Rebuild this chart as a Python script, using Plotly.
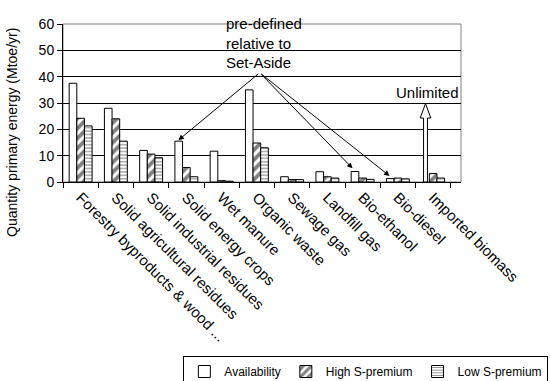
import plotly.graph_objects as go

categories = ["Forestry byproducts & wood ...", "Solid agricultural residues",
              "Solid industrial residues", "Solid energy crops", "Wet manure",
              "Organic waste", "Sewage gas", "Landfill gas", "Bio-ethanol",
              "Bio-diesel", "Imported biomass"]
availability = [37.5, 28.0, 12.0, 15.5, 11.7, 35.0, 2.0, 3.9, 4.0, 1.3, None]
high_premium = [24.2, 24.0, 10.6, 5.5, 0.5, 14.8, 0.9, 2.0, 1.5, 1.5, 3.2]
low_premium = [21.3, 15.5, 9.2, 2.0, 0.3, 13.0, 0.9, 1.5, 1.0, 1.2, 1.5]
y_ticks = [0, 10, 20, 30, 40, 50, 60]

FONT = "Arial, Liberation Sans, sans-serif"
BARGAP = 0.35
slot = (1 - BARGAP) / 3  # width of one bar in category units

fig = go.Figure()
fig.add_trace(go.Bar(name="Availability", x=categories, y=availability,
                     marker=dict(color="white", line=dict(color="black", width=1))))
fig.add_trace(go.Bar(name="High S-premium", x=categories, y=high_premium,
                     marker=dict(color="white", line=dict(color="black", width=1),
                                 pattern=dict(shape="/", fgcolor="black", bgcolor="white",
                                              size=7, solidity=0.55))))
fig.add_trace(go.Bar(name="Low S-premium", x=categories, y=low_premium,
                     marker=dict(color="white", line=dict(color="black", width=1),
                                 pattern=dict(shape="-", fgcolor="black", bgcolor="white",
                                              size=3.4, solidity=0.3))))

# plot-area border (grey top/right)
fig.add_shape(type="rect", xref="paper", yref="paper", x0=0, x1=1, y0=0, y1=1,
              line=dict(color="#808080", width=1), layer="below")

# hollow "Unlimited" arrow in the availability slot of the last category
ix = len(categories) - 1 - slot
shaft, head = 0.055, 0.15
y_base, y_tip = 24.3, 29.8
path = (f"M{ix-shaft},0 L{ix-shaft},{y_base} L{ix-head},{y_base} L{ix},{y_tip} "
        f"L{ix+head},{y_base} L{ix+shaft},{y_base} L{ix+shaft},0 Z")
fig.add_shape(type="path", xref="x", yref="y", path=path,
              fillcolor="white", line=dict(color="black", width=1))
fig.add_annotation(x=ix, y=34.0, xref="x", yref="y", text="Unlimited", xshift=2,
                   showarrow=False, font=dict(family=FONT, size=15, color="black"))

# arrows from the "pre-defined" note
apex_x, apex_y = 5.08, 41.5
targets = [(3, 15.9, -0.01), (8, 5.2, -0.07), (9, 2.3, -0.02)]
for ci, ty, dx in targets:
    fig.add_annotation(x=ci - slot + dx, y=ty, xref="x", yref="y",
                       ax=apex_x, ay=apex_y, axref="x", ayref="y",
                       text="", showarrow=True, arrowhead=2, arrowsize=1.1,
                       arrowwidth=1, arrowcolor="black")
fig.add_annotation(x=0.405, y=1.07, xref="paper", yref="paper",
                   text="pre-defined<br>relative to<br>Set-Aside", align="left",
                   xanchor="left", yanchor="top", showarrow=False,
                   font=dict(family=FONT, size=15, color="black"))

# y-axis title
fig.add_annotation(x=-0.128, y=0.311, xref="paper", yref="paper",
                   text="Quantity primary energy (Mtoe/yr)", textangle=-90,
                   showarrow=False, xanchor="center", yanchor="middle",
                   font=dict(family=FONT, size=14, color="black"))

W, H = 550, 381
fig.update_layout(
    width=W, height=H,
    margin=dict(l=63, r=89, t=24, b=199, autoexpand=False),
    paper_bgcolor="white", plot_bgcolor="white",
    barmode="group", bargap=BARGAP, bargroupgap=0,
    font=dict(family=FONT, size=13, color="black"),
    showlegend=True,
    legend=dict(orientation="h", xref="container", yref="container",
                x=0.997, xanchor="right", y=1 - 356 / H, yanchor="top",
                bordercolor="black", borderwidth=1, bgcolor="white",
                font=dict(family=FONT, size=12, color="black"),
                itemwidth=30, tracegroupgap=0),
    xaxis=dict(type="category", tickangle=45, ticks="outside", tickson="boundaries",
               ticklen=5, tickcolor="black", showline=True, linecolor="black",
               linewidth=1, showgrid=False, automargin=False,
               tickfont=dict(family=FONT, size=15, color="black")),
    yaxis=dict(range=[0, 60], tickvals=y_ticks, ticks="outside", ticklen=5,
               tickcolor="black", showline=True, linecolor="black", linewidth=1,
               showgrid=True, gridcolor="black", gridwidth=1, zeroline=False,
               automargin=False,
               tickfont=dict(family=FONT, size=14, color="black")),
)

# remove the browser's default page margin so the figure fills the window
fig.write_html("out.html", config={"displayModeBar": False},
               post_script="document.body.style.margin='0';"
                           "document.body.style.overflow='hidden';")
